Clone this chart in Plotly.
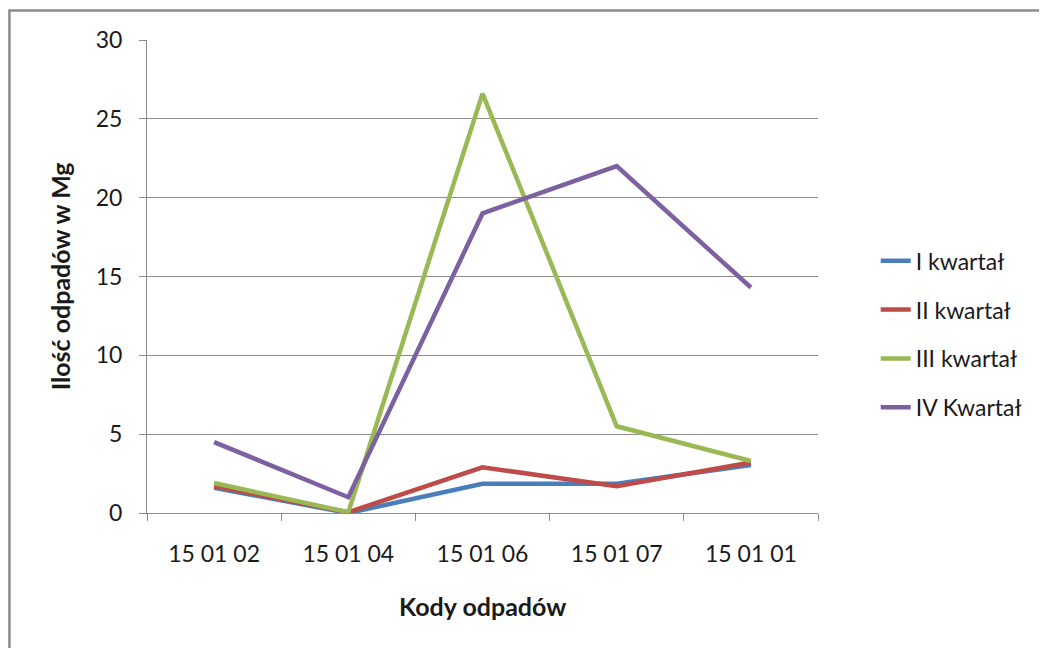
import plotly.graph_objects as go

categories = ["15 01 02", "15 01 04", "15 01 06", "15 01 07", "15 01 01"]
series_names = ["I kwartał", "II kwartał", "III kwartał", "IV Kwartał"]
q1 = [1.6, 0.0, 1.85, 1.85, 3.05]
q2 = [1.7, 0.05, 2.9, 1.7, 3.2]
q3 = [1.9, 0.05, 26.6, 5.5, 3.3]
q4 = [4.5, 1.0, 19.0, 22.0, 14.3]
y_ticks = [0, 5, 10, 15, 20, 25, 30]
colors = ["#4A7EBB", "#BE4B48", "#98B954", "#7D60A0"]

FONT = "Lato"
fig = go.Figure()
for name, vals, col in zip(series_names, [q1, q2, q3, q4], colors):
    fig.add_trace(go.Scatter(x=categories, y=vals, mode="lines", name=name,
                             legendgroup=name,
                             line=dict(color=col, width=4.5)))

grid = "#8C8C8C"
fig.update_layout(
    width=1047, height=648,
    margin=dict(l=139, r=237, t=32, b=143),
    paper_bgcolor="white", plot_bgcolor="white",
    font=dict(family=FONT, color="#1a1a1a", size=23),
    showlegend=True,
    legend=dict(x=1.086, xanchor="left", y=0.378, yanchor="middle",
                tracegroupgap=16, font=dict(size=23, family=FONT),
                traceorder="grouped", bgcolor="rgba(0,0,0,0)"),
    xaxis=dict(type="category", showgrid=False, showline=True, linecolor=grid,
               linewidth=1, ticks="outside", ticklen=7, tickcolor=grid,
               tickson="boundaries", tickfont=dict(size=23, family=FONT),
               ticklabelstandoff=20,
               range=[-0.5, 4.5], zeroline=False),
    yaxis=dict(range=[0, 30], tickvals=y_ticks, showgrid=True, gridcolor=grid,
               gridwidth=1, showline=True, linecolor=grid, linewidth=1,
               ticks="outside", ticklen=7, tickcolor=grid, zeroline=False,
               ticklabelstandoff=12,
               tickfont=dict(size=23, family=FONT)),
    annotations=[
        dict(text="<b>Kody odpadów</b>", xref="paper", yref="paper",
             x=0.5, y=-0.197, xanchor="center", yanchor="middle",
             showarrow=False, font=dict(size=25, family=FONT)),
        dict(text="<b>Ilość odpadów w Mg</b>", xref="paper", yref="paper",
             x=-0.13, y=0.5, xanchor="center", yanchor="middle",
             textangle=-90, showarrow=False, font=dict(size=25, family=FONT)),
    ],
    shapes=[
        dict(type="rect", xref="paper", yref="paper", x0=-0.205, x1=1.6,
             y0=-0.6, y1=1.0624, line=dict(color="#8C8C8C", width=2.5),
             layer="below"),
    ],
)

fig.write_html("out.html")
